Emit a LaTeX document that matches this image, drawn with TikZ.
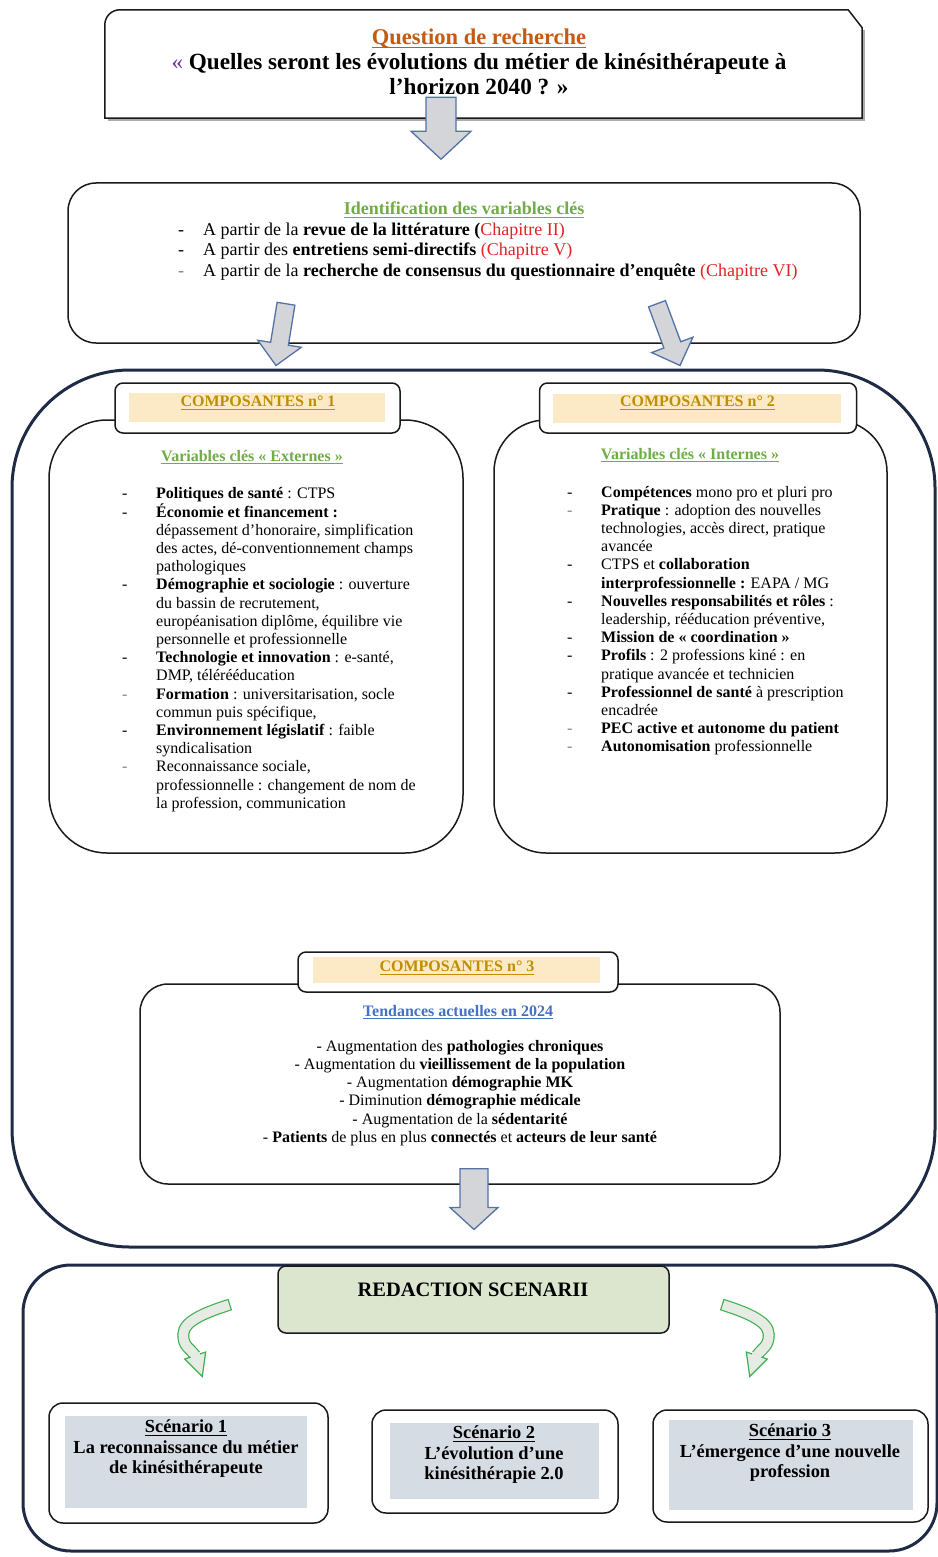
\documentclass[tikz,border=0pt]{standalone}
\usepackage{fontspec}
\setmainfont{Liberation Serif}
\usetikzlibrary{calc}

\definecolor{navy}{HTML}{1F2B45}
\definecolor{boxc}{HTML}{1A1A1A}
\definecolor{qorange}{HTML}{C55A11}
\definecolor{qpurple}{HTML}{7030A0}
\definecolor{vgreen}{HTML}{70AD47}
\definecolor{chapred}{HTML}{E02424}
\definecolor{compgold}{HTML}{BF8F00}
\definecolor{compfill}{HTML}{FCEAC6}
\definecolor{tblue}{HTML}{4472C4}
\definecolor{redfill}{HTML}{DCE6CF}
\definecolor{scenfill}{HTML}{D6DCE4}
\definecolor{arrowfill}{HTML}{D4D5D9}
\definecolor{arrowline}{HTML}{5272A8}
\definecolor{curvegreen}{HTML}{3CB050}
\definecolor{curvefill}{HTML}{E6ECE3}

\newcommand{\setfs}[2]{\fontsize{#1}{#2}\selectfont}
% underline in the current text colour
\newcommand{\undl}[1]{\leavevmode\setbox0=\hbox{#1}\rlap{\copy0}\rule[-0.17em]{\wd0}{0.065em}}

% straight block arrow: start, tip, shaft half width, head half width, head length
\newcommand{\blockarrow}[5]{%
  \coordinate (ba-h) at ($(#2)!#5!(#1)$);
  \filldraw[blockarrow]
    ($(#1)!#3!90:(#2)$) -- ($(ba-h)!#3!90:(#2)$) -- ($(ba-h)!#4!90:(#2)$)
    -- (#2) -- ($(ba-h)!#4!-90:(#2)$) -- ($(ba-h)!#3!-90:(#2)$)
    -- ($(#1)!#3!-90:(#2)$) -- cycle;}

% curved green arrow: band path, end of band, tip
\newcommand{\curvedarrow}[3]{%
  \draw[curvegreen, line width=12pt] #1;
  \draw[curvefill, line width=9.6pt, shorten <=1.2pt] #1;
  \filldraw[fill=curvefill, draw=curvegreen, line width=1.2pt, line join=miter]
    ($(#2)!11pt!90:(#3)$) -- (#3) -- ($(#2)!11pt!-90:(#3)$) -- cycle;
  \draw[curvefill, line width=9.6pt] ($(#2)!-1pt!(#3)$) -- ($(#2)!1.2pt!(#3)$);}

\begin{document}
\begin{tikzpicture}[x=1pt, y=-1pt,
  box/.style={draw=boxc, line width=1.5pt, fill=white, inner sep=0pt},
  container/.style={draw=navy, line width=3pt, inner sep=0pt},
  blockarrow/.style={fill=arrowfill, draw=arrowline, line width=1.3pt, line join=miter},
  band/.style={inner sep=0pt},
  listtext/.style={anchor=base west, inner sep=0pt, font=\setfs{16}{18.2}},
  headtext/.style={text=compgold, font=\setfs{16}{18}\bfseries},
  vartitle/.style={text=vgreen, inner sep=0pt, font=\setfs{16}{18}\bfseries},
  scentext/.style={align=center, inner sep=0pt, font=\setfs{18.4}{20.5}\bfseries}]

\useasboundingbox (0,0) rectangle (937,1557);

% ---------- large containers ----------
\node[container, rounded corners=118pt, minimum width=923pt, minimum height=877pt] (outer) at (473.5,808.5) {};
\node[container, rounded corners=48pt, minimum width=914pt, minimum height=286pt] (bottom) at (480,1408) {};

% ---------- research question ----------
\node[inner sep=0pt, minimum width=757pt, minimum height=108pt] (qbox) at (483.5,64) {};
\draw[gray!65, line width=2pt]
  ([xshift=2pt, yshift=-20pt]qbox.north east) -- ([xshift=2pt, yshift=-1.5pt]qbox.south east)
  -- ([xshift=3pt, yshift=-1.5pt]qbox.south west);
\draw[draw=boxc, line width=1.5pt, fill=white]
  (qbox.south west) -- ([yshift=-15pt]qbox.north west)
  .. controls ([yshift=-6.7pt]qbox.north west) and ([xshift=6.7pt]qbox.north west) .. ([xshift=15pt]qbox.north west)
  -- ([xshift=-14pt]qbox.north east) -- ([yshift=-18pt]qbox.north east)
  -- (qbox.south east) -- cycle;
\node[align=center, inner sep=0pt, font=\setfs{23.2}{25}\bfseries] (qtext) at (479,62)
  {{\setfs{22.5}{25}\textcolor{qorange}{\undl{Question de recherche}}}\\
   \textcolor{qpurple}{\mdseries «}~Quelles seront les évolutions du métier de kinésithérapeute à\\
   l’horizon 2040 ? »};

% ---------- key variables identification ----------
\node[box, rounded corners=28pt, minimum width=792pt, minimum height=160pt] (idbox) at (464,263) {};
\node[text=vgreen, inner sep=0pt, font=\setfs{18}{20.5}\bfseries] (idtitle) at (464,210)
  {\undl{Identification des variables clés}};
\node[anchor=base west, inner sep=0pt, font=\setfs{18}{20.5}] (idlist) at (178,235)
  {\begin{tabular}[t]{@{}p{25pt}@{}l@{}}
   - & A partir de la \textbf{revue de la littérature (}\textcolor{chapred}{Chapitre II)}\\
   - & A partir des \textbf{entretiens semi-directifs} \textcolor{chapred}{(Chapitre V)}\\
   \textcolor{gray}{-} & A partir de la \textbf{recherche de consensus du questionnaire d’enquête} \textcolor{chapred}{(Chapitre VI)}
   \end{tabular}};

% ---------- components 1 and 2 ----------
\node[box, rounded corners=58pt, minimum width=414pt, minimum height=433pt] (c1b) at (256,636.5) {};
\node[box, rounded corners=52pt, minimum width=393pt, minimum height=433pt] (c2b) at (690.5,636.5) {};

\node[box, rounded corners=8pt, minimum width=285pt, minimum height=50pt] (c1h) at (257.5,408) {};
\node[band, fill=compfill, minimum width=256pt, minimum height=29pt] (c1f) at (257,407) {};
\node[headtext] (c1t) at (258,403) {\undl{COMPOSANTES n° 1}};

\node[box, rounded corners=8pt, minimum width=317pt, minimum height=50pt] (c2h) at (698,408) {};
\node[band, fill=compfill, minimum width=288pt, minimum height=29pt] (c2f) at (697,408) {};
\node[headtext] (c2t) at (697.5,403) {\undl{COMPOSANTES n° 2}};

\node[vartitle] (c1v) at (252,457) {\undl{Variables clés « Externes »}};
\node[vartitle] (c2v) at (690,455) {\undl{Variables clés « Internes »}};

\node[listtext] (c1list) at (122,498)
  {\begin{tabular}[t]{@{}p{34pt}@{}l@{}}
   - & \textbf{Politiques de santé} : CTPS\\
   - & \textbf{Économie et financement :}\\
     & dépassement d’honoraire, simplification\\
     & des actes, dé-conventionnement champs\\
     & pathologiques\\
   - & \textbf{Démographie et sociologie} : ouverture\\
     & du bassin de recrutement,\\
     & européanisation diplôme, équilibre vie\\
     & personnelle et professionnelle\\
   - & \textbf{Technologie et innovation} : e-santé,\\
     & DMP, télérééducation\\
   \textcolor{gray}{-} & \textbf{Formation} : universitarisation, socle\\
     & commun puis spécifique,\\
   - & \textbf{Environnement législatif} : faible\\
     & syndicalisation\\
   \textcolor{gray}{-} & Reconnaissance sociale,\\
     & professionnelle : changement de nom de\\
     & la profession, communication
   \end{tabular}};

\node[listtext] (c2list) at (567,497)
  {\begin{tabular}[t]{@{}p{34pt}@{}l@{}}
   - & \textbf{Compétences} mono pro et pluri pro\\
   \textcolor{gray}{-} & \textbf{Pratique} : adoption des nouvelles\\
     & technologies, accès direct, pratique\\
     & avancée\\
   - & CTPS et \textbf{collaboration}\\
     & \textbf{interprofessionnelle :} EAPA / MG\\
   - & \textbf{Nouvelles responsabilités et rôles} :\\
     & leadership, rééducation préventive,\\
   - & \textbf{Mission de « coordination »}\\
   - & \textbf{Profils} : 2 professions kiné : en\\
     & pratique avancée et technicien\\
   - & \textbf{Professionnel de santé} à prescription\\
     & encadrée\\
   \textcolor{gray}{-} & \textbf{PEC active et autonome du patient}\\
   \textcolor{gray}{-} & \textbf{Autonomisation} professionnelle
   \end{tabular}};

% ---------- component 3 ----------
\node[box, rounded corners=28pt, minimum width=640pt, minimum height=200pt] (c3b) at (460,1084) {};
\node[box, rounded corners=8pt, minimum width=320pt, minimum height=40pt] (c3h) at (458,972) {};
\node[band, fill=compfill, minimum width=287pt, minimum height=26pt] (c3f) at (456.5,970) {};
\node[headtext] (c3t) at (457,968) {\undl{COMPOSANTES n° 3}};
\node[text=tblue, inner sep=0pt, font=\setfs{16}{18}\bfseries] (c3v) at (458,1012) {\undl{Tendances actuelles en 2024}};
\node[align=center, inner sep=0pt, font=\setfs{16}{18.2}] (c3list) at (460,1093)
  {- Augmentation des \textbf{pathologies chroniques}\\
   - Augmentation du \textbf{vieillissement de la population}\\
   - Augmentation \textbf{démographie MK}\\
   - Diminution \textbf{démographie médicale}\\
   - Augmentation de la \textbf{sédentarité}\\
   - \textbf{Patients} de plus en plus \textbf{connectés} et \textbf{acteurs de leur santé}};

% ---------- scenario writing ----------
\node[box, draw=boxc, fill=redfill, rounded corners=8pt, minimum width=391pt, minimum height=67pt] (red) at (473.5,1299.5) {};
\node[inner sep=0pt, font=\setfs{20.5}{22}\bfseries] (redt) at (473,1290) {REDACTION SCENARII};

\node[box, rounded corners=14pt, minimum width=279pt, minimum height=120pt] (s1) at (188.5,1463) {};
\node[band, fill=scenfill, minimum width=242pt, minimum height=92pt] (s1f) at (186,1462) {};
\node[scentext] (s1t) at (186,1449) {\undl{Scénario 1}\\ La reconnaissance du métier\\ de kinésithérapeute};

\node[box, rounded corners=14pt, minimum width=246pt, minimum height=103pt] (s2) at (495,1461.5) {};
\node[band, fill=scenfill, minimum width=209pt, minimum height=76pt] (s2f) at (494.5,1461) {};
\node[scentext] (s2t) at (494,1455) {\undl{Scénario 2}\\ L’évolution d’une\\ kinésithérapie 2.0};

\node[box, rounded corners=14pt, minimum width=275pt, minimum height=112pt] (s3) at (790.5,1466) {};
\node[band, fill=scenfill, minimum width=244pt, minimum height=90pt] (s3f) at (791,1465) {};
\node[scentext] (s3t) at (790,1453) {\undl{Scénario 3}\\ L’émergence d’une nouvelle\\ profession};

% ---------- block arrows ----------
\coordinate (a1s) at ([xshift=-42.5pt, yshift=21pt]qbox.south);
\coordinate (a1t) at ([xshift=-23pt, yshift=23pt]idbox.north);
\blockarrow{a1s}{a1t}{15pt}{30pt}{28pt}

\coordinate (a2s) at ([xshift=-178pt, yshift=40pt]idbox.south);
\coordinate (a2t) at ([xshift=-197.5pt, yshift=3pt]outer.north);
\blockarrow{a2s}{a2t}{9pt}{22pt}{22pt}

\coordinate (a3s) at ([xshift=193pt, yshift=40pt]idbox.south);
\coordinate (a3t) at ([xshift=206.5pt, yshift=3pt]outer.north);
\blockarrow{a3s}{a3t}{9pt}{22pt}{22pt}

\coordinate (a4s) at ([xshift=14pt, yshift=16pt]c3b.south);
\coordinate (a4t) at ([xshift=0.5pt, yshift=19pt]outer.south);
\blockarrow{a4s}{a4t}{14pt}{24pt}{22pt}

% ---------- curved arrows towards the scenarios ----------
\coordinate (lS) at ([xshift=-47pt, yshift=-5pt]red.west);
\coordinate (lM) at ([xshift=-47pt, yshift=-30pt]lS);
\coordinate (lE) at ([xshift=12pt, yshift=-21pt]lM);
\coordinate (lT) at ([xshift=7pt, yshift=-21pt]lE);
\curvedarrow{(lS) .. controls ([xshift=-22pt, yshift=-7pt]lS) and ([yshift=14pt]lM) .. (lM)
  .. controls ([yshift=-12pt]lM) and ([xshift=-6pt, yshift=8pt]lE) .. (lE)}{lE}{lT}

\coordinate (rS) at ([xshift=52pt, yshift=-5pt]red.east);
\coordinate (rM) at ([xshift=47pt, yshift=-30pt]rS);
\coordinate (rE) at ([xshift=-12pt, yshift=-21pt]rM);
\coordinate (rT) at ([xshift=-7pt, yshift=-21pt]rE);
\curvedarrow{(rS) .. controls ([xshift=22pt, yshift=-7pt]rS) and ([yshift=14pt]rM) .. (rM)
  .. controls ([yshift=-12pt]rM) and ([xshift=6pt, yshift=8pt]rE) .. (rE)}{rE}{rT}

\end{tikzpicture}
\end{document}
